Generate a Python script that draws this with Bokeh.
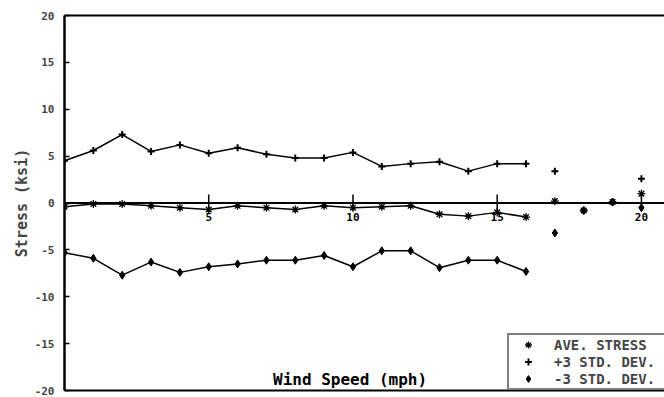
from bokeh.plotting import figure
from bokeh.models import Range1d, LinearAxis, FixedTicker, Span, Legend, LegendItem
from bokeh.core.properties import value
from bokeh.embed import file_html
from bokeh.resources import INLINE

# ---- data ----
wind_speed = list(range(17))
plus3_std = [4.5, 5.6, 7.3, 5.5, 6.2, 5.3, 5.9, 5.2, 4.8, 4.8, 5.4, 3.9, 4.2, 4.4, 3.4, 4.2, 4.2]
ave_stress = [-0.4, -0.1, -0.1, -0.3, -0.5, -0.7, -0.3, -0.5, -0.7, -0.3, -0.5, -0.4, -0.3, -1.2, -1.4, -1.0, -1.5]
minus3_std = [-5.3, -5.9, -7.7, -6.3, -7.4, -6.8, -6.5, -6.1, -6.1, -5.6, -6.8, -5.1, -5.1, -6.9, -6.1, -6.1, -7.3]

extra_wind = [17, 18, 19, 20]
extra_plus3 = [3.4, -0.8, 0.1, 2.6]
extra_ave = [0.2, -0.8, 0.1, 1.0]
extra_minus3 = [-3.2, -0.8, 0.1, -0.5]

x_ticks = [5, 10, 15, 20]
x_tick_labels = ["5", "10", "15", "20"]
y_ticks = [-20, -15, -10, -5, 0, 5, 10, 15, 20]
y_tick_labels = ["-20", "-15", "-10", "-5", "0", "5", "10", "15", "20"]

FONT = value("DejaVu Sans Mono")

p = figure(width=664, height=397, x_range=Range1d(0, 20.8), y_range=Range1d(-20, 20),
           output_backend="svg", toolbar_location=None,
           x_axis_location=None, y_axis_location="left",
           min_border_left=64, min_border_right=0, min_border_top=15, min_border_bottom=7)
p.outline_line_color = None
p.grid.visible = False
p.background_fill_color = "white"
p.border_fill_color = "white"

# left axis
ya = p.yaxis[0]
ya.ticker = FixedTicker(ticks=y_ticks)
ya.major_label_overrides = {t: l for t, l in zip(y_ticks, y_tick_labels)}
ya.major_tick_in = 5
ya.major_tick_out = 0
ya.minor_tick_in = 0
ya.minor_tick_out = 0
ya.axis_line_width = 2.5
ya.major_tick_line_width = 1.5
ya.major_label_text_font = "DejaVu Sans Mono"
ya.major_label_text_font_style = "bold"
ya.major_label_text_font_size = "11px"
ya.major_label_standoff = 10
ya.axis_label = "Stress (ksi)"
ya.axis_label_text_font = "DejaVu Sans Mono"
ya.axis_label_text_font_style = "bold"
ya.axis_label_text_font_size = "15px"
ya.axis_label_standoff = 1

# top and bottom frame lines as bare axes
for loc in ("above", "below"):
    ax = LinearAxis(ticker=FixedTicker(ticks=[]), major_tick_in=0, major_tick_out=0,
                    minor_tick_in=0, minor_tick_out=0, major_label_standoff=0,
                    major_label_text_font_size="0px", axis_line_width=2)
    p.add_layout(ax, loc)

# x axis through zero
p.add_layout(Span(location=0, dimension="width", line_color="black", line_width=2))
p.segment(x0=x_ticks, y0=[-0.8] * len(x_ticks), x1=x_ticks, y1=[0.9] * len(x_ticks),
          line_color="black", line_width=1.5)
p.text(x=x_ticks, y=[-1.1] * len(x_ticks), text=x_tick_labels, text_font=FONT,
       text_font_style="bold", text_font_size="11px", text_align="center", text_baseline="top")

# x axis title inside frame
p.text(x=[9.9], y=[-19.8], text=["Wind Speed (mph)"], text_font=FONT, text_font_style="bold",
       text_font_size="16px", text_align="center", text_baseline="bottom")

# series lines
for ys in (plus3_std, ave_stress, minus3_std):
    p.line(wind_speed, ys, line_color="black", line_width=1.5)

r_ave = p.scatter(wind_speed + extra_wind, ave_stress + extra_ave, marker="asterisk", size=8,
                  line_color="black", line_width=1.3)
r_plus = p.scatter(wind_speed + extra_wind, plus3_std + extra_plus3, marker="cross", size=7,
                   line_color="black", line_width=2)
r_minus = p.scatter(wind_speed + extra_wind, minus3_std + extra_minus3, marker="diamond", size=8,
                    line_color="black", fill_color="black")

legend = Legend(items=[LegendItem(label="AVE. STRESS", renderers=[r_ave]),
                       LegendItem(label="+3 STD. DEV.", renderers=[r_plus]),
                       LegendItem(label="-3 STD. DEV.", renderers=[r_minus])],
                location=(443, 0), padding=1, spacing=0, margin=0,
                glyph_width=36, glyph_height=17, label_height=17, label_width=125,
                label_standoff=8,
                label_text_font="DejaVu Sans Mono", label_text_font_style="bold",
                label_text_font_size="14px",
                border_line_color="black", border_line_width=2,
                background_fill_color="white", background_fill_alpha=1.0)
p.add_layout(legend)

open("out.html", "w").write(file_html(p, INLINE))
